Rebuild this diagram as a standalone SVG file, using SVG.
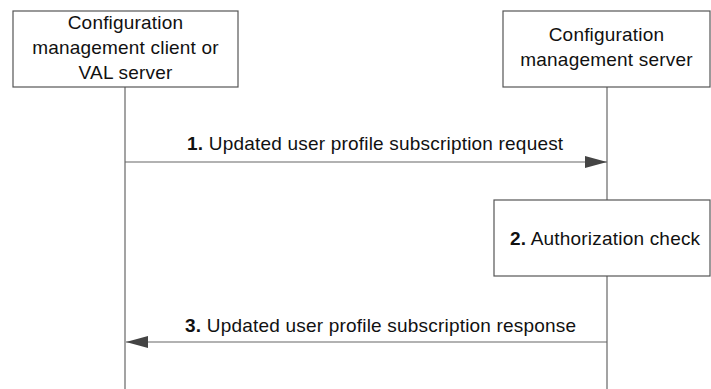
<svg xmlns="http://www.w3.org/2000/svg" width="711" height="389" viewBox="0 0 711 389">
<style>
.box{fill:#fff;stroke:#555;stroke-width:1.2}
.life{stroke:#666;stroke-width:1.2;fill:none}
.msg{stroke:#666;stroke-width:1.2;fill:none}
text{font-family:"Liberation Sans",Arial,sans-serif;font-size:19px;letter-spacing:0.2px;fill:#111}
.c{text-anchor:middle}
</style>
<defs>
<marker id="ah" markerWidth="22" markerHeight="12" refX="22" refY="6" orient="auto-start-reverse" markerUnits="userSpaceOnUse">
<path d="M0,0 L22,6 L0,12 Z" fill="#444"/>
</marker>
</defs>
<g id="lifelines">
<line class="life" x1="125" y1="87" x2="125" y2="389"/>
<line class="life" x1="607" y1="87" x2="607" y2="200"/>
<line class="life" x1="607" y1="276" x2="607" y2="389"/>
</g>
<g id="client">
<rect class="box" x="13" y="11" width="225" height="76"/>
<text class="c" x="125.5" y="29">Configuration</text>
<text class="c" x="125.5" y="54">management client or</text>
<text class="c" x="125.5" y="79">VAL server</text>
</g>
<g id="server">
<rect class="box" x="503" y="11" width="207" height="76"/>
<text class="c" x="606.5" y="41">Configuration</text>
<text class="c" x="606.5" y="66">management server</text>
</g>
<g id="auth">
<rect class="box" x="494" y="200" width="216" height="76"/>
<text x="510" y="245"><tspan font-weight="bold">2.</tspan> Authorization check</text>
</g>
<g id="connectors">
<line class="msg" x1="125" y1="162" x2="607" y2="162" marker-end="url(#ah)"/>
<text x="187" y="150"><tspan font-weight="bold">1.</tspan> Updated user profile subscription request</text>
<line class="msg" x1="607" y1="342" x2="126" y2="342" marker-end="url(#ah)"/>
<text x="185" y="332"><tspan font-weight="bold">3.</tspan> Updated user profile subscription response</text>
</g>
</svg>
